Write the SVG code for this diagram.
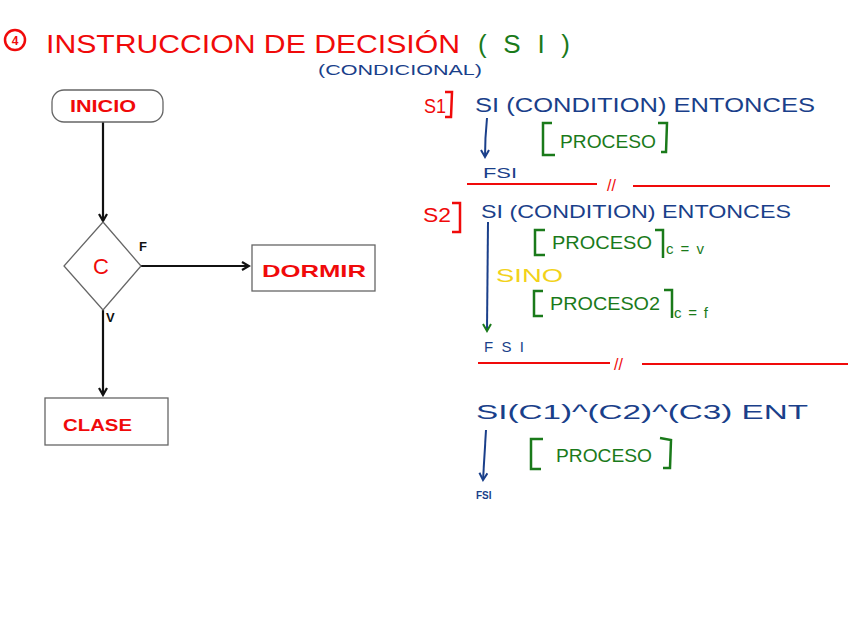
<svg xmlns="http://www.w3.org/2000/svg" width="848" height="636" viewBox="0 0 848 636">
<style>
text{font-family:"Liberation Sans",Arial,sans-serif;}
.red{fill:#f00a0a;}
.blue{fill:#1a3f8a;}
.green{fill:#1a7a1a;}
.yellow{fill:#f2d21a;}
.blk{fill:#111;}
.box{fill:#fff;stroke:#666;stroke-width:1.3;}
.conn{stroke:#111;stroke-width:2.2;fill:none;}
.ink{stroke:#1a3f8a;stroke-width:2;fill:none;}
.sep{stroke:#f00a0a;stroke-width:2;fill:none;}
.brk{stroke:#1a7a1a;stroke-width:2.5;fill:none;}
.rbrk{stroke:#f00a0a;stroke-width:2.5;fill:none;}
</style>
<defs>
<marker id="ah" markerWidth="10" markerHeight="10" refX="8" refY="5" orient="auto" markerUnits="userSpaceOnUse">
<path d="M1,1 L8,5 L1,9" fill="none" stroke="#111" stroke-width="2.2"/>
</marker>
<marker id="ahb" markerWidth="10" markerHeight="10" refX="8" refY="5" orient="auto" markerUnits="userSpaceOnUse">
<path d="M1,1 L8,5 L1,9" fill="none" stroke="#1a3f8a" stroke-width="2"/>
</marker>
</defs>
<rect width="848" height="636" fill="#fff"/>

<!-- Title -->
<g id="title">
<circle cx="15" cy="40" r="10" fill="none" stroke="#f00a0a" stroke-width="2.5"/>
<text x="15" y="45" class="red" font-size="12" font-weight="bold" text-anchor="middle">4</text>
<text x="46" y="53" class="red" font-size="26" textLength="414" lengthAdjust="spacingAndGlyphs">INSTRUCCION DE DECISIÓN</text>
<text x="478" y="53" class="green" font-size="26" textLength="92" lengthAdjust="spacing">(SI)</text>
<text x="318" y="75" class="blue" font-size="15" textLength="164" lengthAdjust="spacingAndGlyphs">(CONDICIONAL)</text>
</g>

<!-- Flowchart -->
<g id="connectors">
<line class="conn" x1="103" y1="122" x2="103" y2="221" marker-end="url(#ah)"/>
<line class="conn" x1="141" y1="266" x2="249" y2="266" marker-end="url(#ah)"/>
<line class="conn" x1="103" y1="310" x2="103" y2="395" marker-end="url(#ah)"/>
<text x="139" y="251" class="blk" font-size="13" font-weight="bold">F</text>
<text x="106" y="322" class="blk" font-size="13" font-weight="bold">V</text>
</g>
<g id="inicio">
<rect class="box" x="52" y="90" width="111" height="32" rx="12"/>
<text x="70" y="112" class="red" font-size="17" font-weight="bold" textLength="66" lengthAdjust="spacingAndGlyphs">INICIO</text>
</g>
<g id="decision">
<polygon class="box" points="103,222 141,266 103,310 64,266" stroke="#111"/>
<text x="101" y="274" class="red" font-size="22" text-anchor="middle">C</text>
</g>
<g id="dormir">
<rect class="box" x="252" y="245" width="123" height="46"/>
<text x="262" y="277" class="red" font-size="17" font-weight="bold" textLength="104" lengthAdjust="spacingAndGlyphs">DORMIR</text>
</g>
<g id="clase">
<rect class="box" x="45" y="398" width="123" height="47"/>
<text x="63" y="431" class="red" font-size="17" font-weight="bold" textLength="69" lengthAdjust="spacingAndGlyphs">CLASE</text>
</g>

<!-- S1 -->
<g id="s1">
<text x="424" y="113" class="red" font-size="20" textLength="22" lengthAdjust="spacingAndGlyphs">S1</text>
<path class="rbrk" d="M445,92 L452,92 L451,117 L445,117"/>
<text x="475" y="112" class="blue" font-size="21" textLength="340" lengthAdjust="spacingAndGlyphs">SI (CONDITION) ENTONCES</text>
<path class="ink" d="M487,118 Q485,138 485,157" marker-end="url(#ahb)"/>
<text x="483" y="178" class="blue" font-size="14" textLength="34" lengthAdjust="spacingAndGlyphs">FSI</text>
<path class="brk" d="M552,123 L543,123 L543,155 L555,155"/>
<text x="560" y="148" class="green" font-size="19" textLength="96" lengthAdjust="spacingAndGlyphs">PROCESO</text>
<path class="brk" d="M658,123 L667,123 L666,152 L661,152"/>
</g>

<line class="sep" x1="467" y1="184" x2="597" y2="184"/>
<text x="607" y="191" class="red" font-size="16">//</text>
<line class="sep" x1="633" y1="186" x2="830" y2="186"/>

<!-- S2 -->
<g id="s2">
<text x="423" y="222" class="red" font-size="20" textLength="28" lengthAdjust="spacingAndGlyphs">S2</text>
<path class="rbrk" d="M452,203 L460,203 L460,232 L452,232"/>
<text x="481" y="218" class="blue" font-size="19" textLength="310" lengthAdjust="spacingAndGlyphs">SI (CONDITION) ENTONCES</text>
<path class="ink" d="M488,222 L487,330"/>
<path d="M483,324 L487,331 L491,324" fill="none" stroke="#1a7a1a" stroke-width="2"/>
<text x="484" y="352" class="blue" font-size="15" textLength="40" lengthAdjust="spacing">FSI</text>
<path class="brk" d="M545,230 L535,230 L535,255 L545,255"/>
<text x="552" y="249" class="green" font-size="18" textLength="100" lengthAdjust="spacingAndGlyphs">PROCESO</text>
<path class="brk" d="M655,230 L663,230 L663,258"/>
<text x="666" y="254" class="green" font-size="15" textLength="38" lengthAdjust="spacing">c=v</text>
<text x="496" y="282" class="yellow" font-size="18" textLength="67" lengthAdjust="spacingAndGlyphs">SINO</text>
<path class="brk" d="M543,291 L534,291 L534,316 L543,316"/>
<text x="550" y="310" class="green" font-size="18" textLength="110" lengthAdjust="spacingAndGlyphs">PROCESO2</text>
<path class="brk" d="M664,290 L672,290 L672,318"/>
<text x="674" y="318" class="green" font-size="15" textLength="34" lengthAdjust="spacing">c=f</text>
</g>

<line class="sep" x1="478" y1="363" x2="610" y2="363"/>
<text x="614" y="370" class="red" font-size="16">//</text>
<line class="sep" x1="642" y1="364" x2="848" y2="364"/>

<!-- S3 -->
<g id="s3">
<text x="476" y="419" class="blue" font-size="20" textLength="332" lengthAdjust="spacingAndGlyphs">SI(C1)^(C2)^(C3) ENT</text>
<path class="ink" d="M486,430 L483,480" marker-end="url(#ahb)"/>
<text x="476" y="499" class="blue" font-size="10" font-weight="bold">FSI</text>
<path class="brk" d="M543,439 L531,439 L531,469 L541,469"/>
<text x="556" y="462" class="green" font-size="18" textLength="96" lengthAdjust="spacingAndGlyphs">PROCESO</text>
<path class="brk" d="M660,438 L671,440 L670,468 L663,468"/>
</g>
</svg>
